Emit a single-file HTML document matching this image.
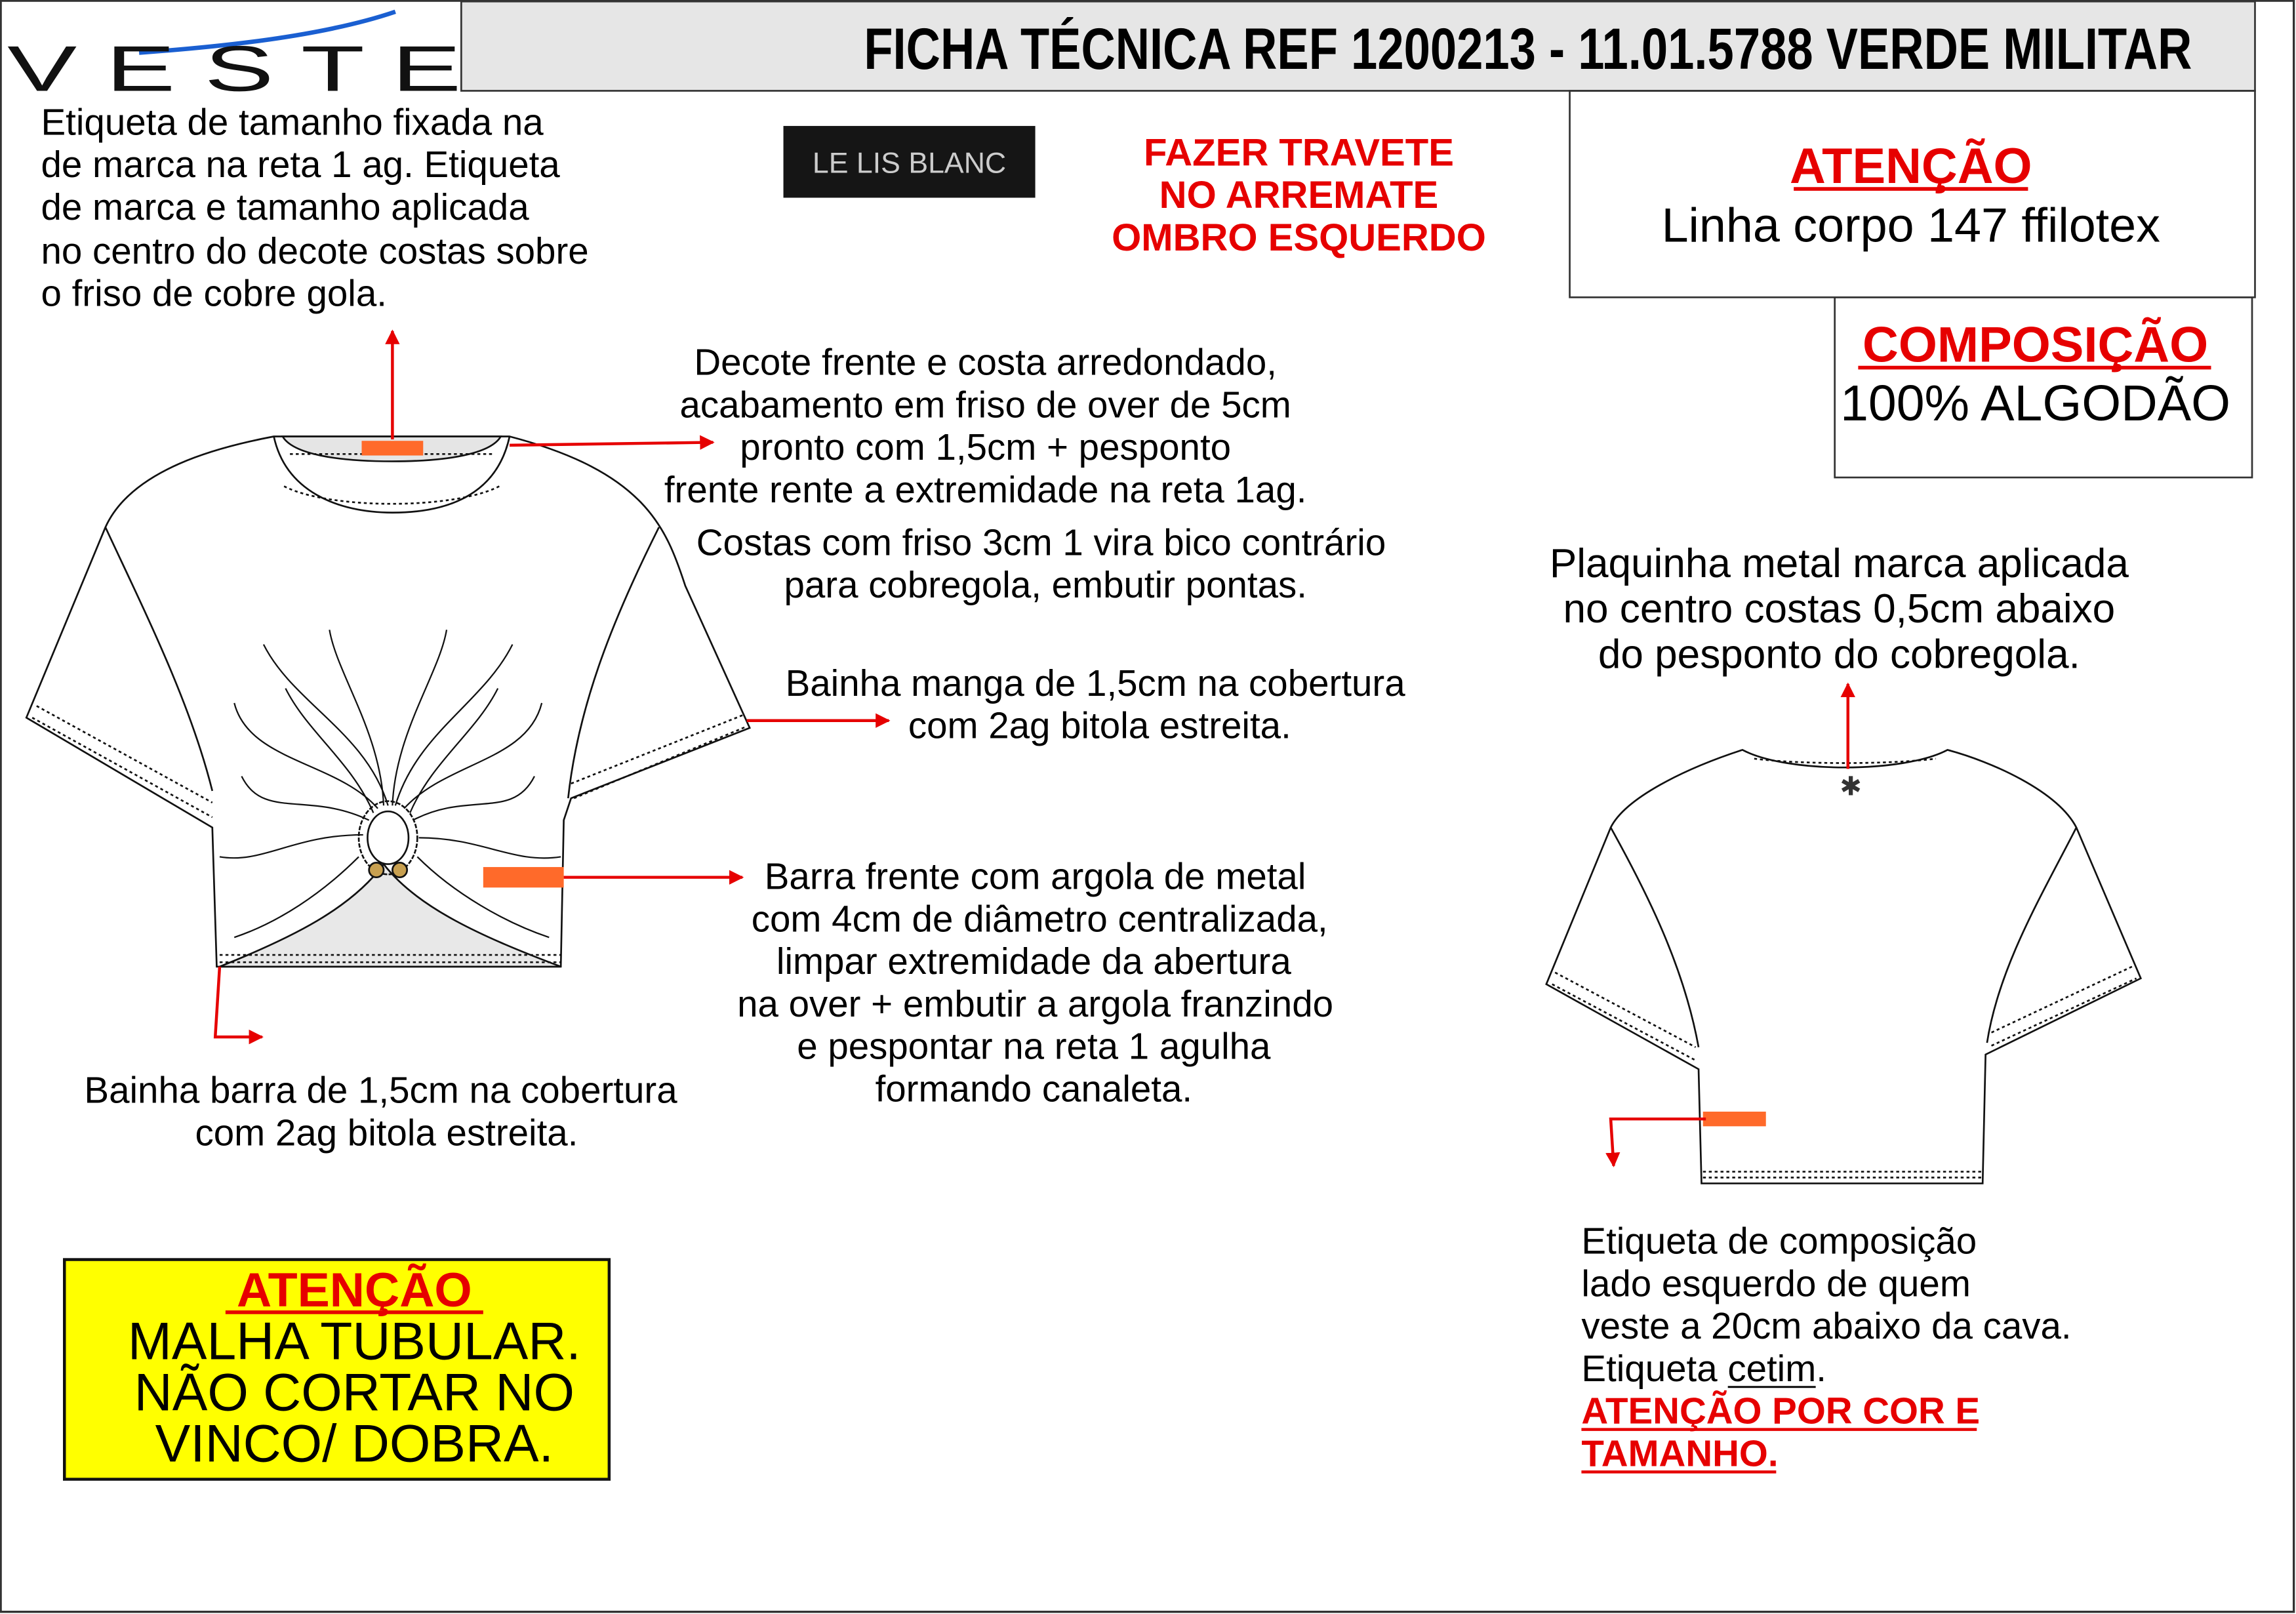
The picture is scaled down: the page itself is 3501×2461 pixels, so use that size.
<!DOCTYPE html>
<html><head><meta charset="utf-8"><style>
html,body{margin:0;padding:0;background:#fff}
svg{display:block}
text{font-family:"Liberation Sans",sans-serif}
</style></head><body>
<svg width="3501" height="2461" viewBox="0 0 1568 1102" preserveAspectRatio="none" xmlns="http://www.w3.org/2000/svg">
<defs>
<marker id="ah" viewBox="0 0 10 10" refX="9" refY="5" markerWidth="5" markerHeight="5" orient="auto"><path d="M0,0L10,5L0,10z" fill="#e60000"/></marker>
</defs>
<rect x="0.5" y="0.5" width="1566" height="1100" fill="#fff" stroke="#333" stroke-width="1.5"/>
<!-- header -->
<rect x="315" y="1" width="1225" height="61" fill="#e6e6e6" stroke="#333" stroke-width="1.2"/>
<text x="590" y="47" font-size="40" font-weight="bold" textLength="907" lengthAdjust="spacingAndGlyphs">FICHA TÉCNICA REF 1200213 - 11.01.5788 VERDE MILITAR</text>
<!-- logo -->
<path d="M95,36 C150,32 220,25 270,8" stroke="#1a5fd1" stroke-width="3" fill="none"/>
<text x="5" y="62" font-size="44" textLength="310" lengthAdjust="spacingAndGlyphs" fill="#111">V E S T E</text>
<!-- attention box -->
<rect x="1072" y="62" width="468" height="141" fill="none" stroke="#333" stroke-width="1.2"/>
<text x="1305" y="125" font-size="34" font-weight="bold" fill="#e60000" text-anchor="middle">ATENÇÃO</text>
<line x1="1225" y1="129" x2="1385" y2="129" stroke="#e60000" stroke-width="2.5"/>
<text x="1305" y="165" font-size="33" text-anchor="middle">Linha corpo 147 ffilotex</text>
<rect x="1253" y="203" width="285" height="123" fill="none" stroke="#333" stroke-width="1.2"/>
<text x="1390" y="247" font-size="34" font-weight="bold" fill="#e60000" text-anchor="middle">COMPOSIÇÃO</text>
<line x1="1269" y1="251" x2="1510" y2="251" stroke="#e60000" stroke-width="2.5"/>
<text x="1390" y="287" font-size="34.5" text-anchor="middle">100% ALGODÃO</text>
<!-- left top text -->
<g font-size="25.3">
<text x="28" y="92">Etiqueta de tamanho fixada na</text>
<text x="28" y="121">de marca na reta 1 ag. Etiqueta</text>
<text x="28" y="150">de marca e tamanho aplicada</text>
<text x="28" y="180">no centro do decote costas sobre</text>
<text x="28" y="209">o friso de cobre gola.</text>
</g>
<!-- label -->
<rect x="535" y="86" width="172" height="49" fill="#151515"/>
<text x="621" y="118" font-size="20" fill="#ccc" text-anchor="middle" font-family="Liberation Serif,serif">LE LIS BLANC</text>
<g font-size="26" font-weight="bold" fill="#e60000" text-anchor="middle">
<text x="887" y="113">FAZER TRAVETE</text>
<text x="887" y="142">NO ARREMATE</text>
<text x="887" y="171">OMBRO ESQUERDO</text>
</g>
<!-- middle texts -->
<g font-size="25.3" text-anchor="middle">
<text x="673" y="256">Decote frente e costa arredondado,</text>
<text x="673" y="285">acabamento em friso de over de 5cm</text>
<text x="673" y="314">pronto com 1,5cm + pesponto</text>
<text x="673" y="343">frente rente a extremidade na reta 1ag.</text>
<text x="711" y="379">Costas com friso 3cm 1 vira bico contrário</text>
<text x="714" y="408">para cobregola, embutir pontas.</text>
<text x="748" y="475">Bainha manga de 1,5cm na cobertura</text>
<text x="751" y="504">com 2ag bitola estreita.</text>
<text x="707" y="607">Barra frente com argola de metal</text>
<text x="710" y="636">com 4cm de diâmetro centralizada,</text>
<text x="706" y="665">limpar extremidade da abertura</text>
<text x="707" y="694">na over + embutir a argola franzindo</text>
<text x="706" y="723">e pespontar na reta 1 agulha</text>
<text x="706" y="752">formando canaleta.</text>
<text x="260" y="753">Bainha barra de 1,5cm na cobertura</text>
<text x="264" y="782">com 2ag bitola estreita.</text>
</g>
<g font-size="27.8" text-anchor="middle">
<text x="1256" y="394">Plaquinha metal marca aplicada</text>
<text x="1256" y="425">no centro costas 0,5cm abaixo</text>
<text x="1256" y="456">do pesponto do cobregola.</text>
</g>
<g font-size="25.3">
<text x="1080" y="856">Etiqueta de composição</text>
<text x="1080" y="885">lado esquerdo de quem</text>
<text x="1080" y="914">veste a 20cm abaixo da cava.</text>
<text x="1080" y="943">Etiqueta cetim.</text>
<line x1="1180" y1="947" x2="1240" y2="947" stroke="#000" stroke-width="1.3"/>
<text x="1080" y="972" font-weight="bold" fill="#e60000">ATENÇÃO POR COR E</text>
<line x1="1080" y1="976" x2="1350" y2="976" stroke="#e60000" stroke-width="2"/>
<text x="1080" y="1001" font-weight="bold" fill="#e60000">TAMANHO.</text>
<line x1="1080" y1="1005" x2="1213" y2="1005" stroke="#e60000" stroke-width="2"/>
</g>
<!-- yellow box -->
<rect x="44" y="860" width="372" height="150" fill="#ffff00" stroke="#111" stroke-width="2"/>
<text x="242" y="892" font-size="33" font-weight="bold" fill="#e60000" text-anchor="middle">ATENÇÃO</text>
<line x1="154" y1="896" x2="330" y2="896" stroke="#e60000" stroke-width="2.5"/>
<g font-size="36" text-anchor="middle">
<text x="242" y="928">MALHA TUBULAR.</text>
<text x="242" y="963">NÃO CORTAR NO</text>
<text x="242" y="998">VINCO/ DOBRA.</text>
</g>
<!-- front shirt -->
<g stroke="#111" stroke-width="1.2" fill="#fff">
<path d="M187,298 C150,305 90,320 72,360 L18,490 L145,565 L148,660 L383,660 L385,560 L390,545 L512,497 L468,400 C455,360 440,322 348,298 Z"/>
<path d="M150,660 C200,640 240,620 262,590 C285,620 330,640 383,660 Z" fill="#e8e8e8"/>
<path d="M187,298 C195,335 230,350 268,350 C310,350 340,335 348,298" fill="none"/>
<path d="M193,298 C200,310 230,315 268,315 C305,315 335,310 342,298 Z" fill="#e5e5e5"/>
<path d="M72,360 C100,420 130,480 145,540" fill="none"/>
<path d="M450,360 C420,420 395,480 388,545" fill="none"/>
<path d="M25,482 L145,548 M22,490 L145,558" fill="none" stroke-dasharray="2,2"/>
<path d="M390,535 L508,488 M392,545 L510,496" fill="none" stroke-dasharray="2,2"/>
<path d="M150,652 L383,652 M150,657 L383,657" fill="none" stroke-dasharray="2,2"/>
<path d="M194,332 C225,348 310,348 341,332" fill="none" stroke-dasharray="2,2"/>
<path d="M198,310 L338,310" fill="none" stroke-dasharray="2,2"/>
<g fill="none" stroke-width="1">
<path d="M265,550 C250,500 200,480 180,440"/><path d="M258,552 C230,520 170,520 160,480"/>
<path d="M252,560 C210,540 180,560 165,530"/><path d="M248,570 C200,570 180,590 150,585"/>
<path d="M270,550 C285,500 330,480 350,440"/><path d="M276,552 C305,520 360,520 370,480"/>
<path d="M282,560 C320,540 350,560 365,530"/><path d="M286,572 C330,572 350,590 383,585"/>
<path d="M262,550 C260,500 230,460 225,430"/><path d="M268,550 C270,500 300,460 305,430"/>
<path d="M255,555 C240,520 210,500 195,470"/><path d="M280,555 C295,520 325,500 340,470"/>
<path d="M245,585 C220,610 190,630 160,640"/><path d="M285,585 C310,610 345,630 375,640"/>
</g>
<ellipse cx="265" cy="572" rx="20" ry="25" fill="none" stroke-dasharray="3,1"/>
<ellipse cx="265" cy="572" rx="14" ry="18" fill="#fff"/>
<circle cx="257" cy="594" r="5" fill="#c8a050"/>
<circle cx="273" cy="594" r="5" fill="#c8a050"/>
</g>
<rect x="247" y="301" width="42" height="10" fill="#ff6a2a"/>
<rect x="330" y="592" width="55" height="14" fill="#ff6a2a"/>
<!-- back shirt -->
<g stroke="#111" stroke-width="1.2" fill="#fff">
<path d="M1190,512 C1150,525 1110,545 1100,565 L1056,672 L1160,730 L1162,808 L1354,808 L1356,720 L1462,668 L1418,565 C1405,540 1360,520 1330,512 C1300,528 1220,528 1190,512 Z"/>
<path d="M1198,518 C1230,522 1290,522 1322,518" fill="none" stroke-dasharray="2,2"/>
<path d="M1100,565 C1125,610 1150,660 1160,715" fill="none"/>
<path d="M1418,565 C1395,610 1365,660 1357,712" fill="none"/>
<path d="M1062,664 L1158,715 M1060,672 L1158,724" fill="none" stroke-dasharray="2,2"/>
<path d="M1360,705 L1456,660 M1360,714 L1459,668" fill="none" stroke-dasharray="2,2"/>
<path d="M1163,800 L1354,800 M1163,804 L1354,804" fill="none" stroke-dasharray="2,2"/>
</g>
<text x="1264" y="543" font-size="18" text-anchor="middle" fill="#333">✱</text>
<rect x="1163" y="759" width="43" height="10" fill="#ff6a2a"/>
<!-- arrows -->
<g stroke="#e60000" stroke-width="2" fill="none" marker-end="url(#ah)">
<path d="M268,300 L268,226"/>
<path d="M348,304 L487,302"/>
<path d="M510,492 L607,492"/>
<path d="M385,599 L507,599"/>
<path d="M150,660 L147,708 L179,708"/>
<path d="M1262,525 L1262,467"/>
<path d="M1165,764 L1100,764 L1102,796"/>
</g>
</svg>
</body></html>
